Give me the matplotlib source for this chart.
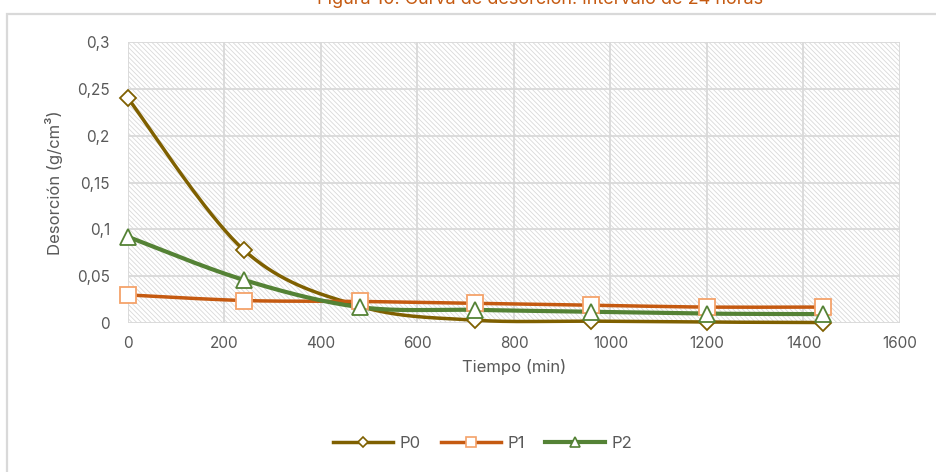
import numpy as np
import matplotlib
matplotlib.use("Agg")
import matplotlib.pyplot as plt
from matplotlib.patches import Rectangle
from matplotlib.lines import Line2D

# Desorption measurements over a 24-hour interval
tiempo = [0, 240, 480, 720, 960, 1200, 1440]
p0 = [0.240, 0.078, 0.018, 0.003, 0.002, 0.001, 0.0005]
p1 = [0.030, 0.024, 0.023, 0.021, 0.019, 0.017, 0.017]
p2 = [0.092, 0.046, 0.017, 0.014, 0.012, 0.010, 0.0095]

x_ticks = [0, 200, 400, 600, 800, 1000, 1200, 1400, 1600]
y_ticks = [0, 0.05, 0.1, 0.15, 0.2, 0.25, 0.3]
y_labels = ["0", "0,05", "0,1", "0,15", "0,2", "0,25", "0,3"]

plt.rcParams["font.family"] = ["Inter", "DejaVu Sans"]
plt.rcParams["hatch.linewidth"] = 0.6


def smooth(x, y, n=40):
    """Catmull-Rom curve through the points, used to draw smoothed lines."""
    x = np.asarray(x, float)
    y = np.asarray(y, float)
    px = np.concatenate([[x[0]], x, [x[-1]]])
    py = np.concatenate([[y[0]], y, [y[-1]]])
    xs, ys = [], []
    t = np.linspace(0, 1, n)
    for i in range(1, len(px) - 2):
        for arr, out in ((px, xs), (py, ys)):
            p_0, p_1, p_2, p_3 = arr[i - 1], arr[i], arr[i + 1], arr[i + 2]
            seg = 0.5 * ((2 * p_1) + (-p_0 + p_2) * t
                         + (2 * p_0 - 5 * p_1 + 4 * p_2 - p_3) * t ** 2
                         + (-p_0 + 3 * p_1 - 3 * p_2 + p_3) * t ** 3)
            out.extend(seg)
    return np.array(xs), np.array(ys)


W, H = 937, 472
fig = plt.figure(figsize=(W / 100, H / 100), dpi=100)
ax = fig.add_axes([128 / W, 1 - 323 / H, (900 - 128) / W, (323 - 42) / H])

# outer chart frame
fig.add_artist(Rectangle((7.5 / W, -0.1), 1.2, 1 - 13.5 / H + 0.1,
                         transform=fig.transFigure, fill=False,
                         edgecolor="#d9d9d9", lw=1.6))

# hatched plot background
ax.add_patch(Rectangle((0, 0), 1, 1, transform=ax.transAxes, facecolor="white",
                       edgecolor="#d9d9d9", hatch="\\" * 7, lw=0, zorder=0))

ax.set_xlim(0, 1600)
ax.set_ylim(0, 0.3)
ax.set_xticks(x_ticks)
ax.set_yticks(y_ticks)
ax.set_yticklabels(y_labels)
ax.grid(True, color="#d9d9d9", lw=1.3, zorder=1)
ax.set_axisbelow(True)
for s in ax.spines.values():
    s.set_visible(False)
ax.tick_params(length=0, labelsize=11, labelcolor="#595959")
ax.tick_params(axis="x", pad=9)
ax.tick_params(axis="y", pad=13)

series = [
    ("P0", p0, "#7f6000", "#7f6000", "D", 8.5, 2.5),
    ("P1", p1, "#c55a11", "#f4a26a", "s", 11, 2.5),
    ("P2", p2, "#548235", "#548235", "^", 12, 3.0),
]
handles = []
for name, vals, lc, mc, mk, ms, lw in series:
    sx, sy = smooth(tiempo, vals)
    ax.plot(sx, sy, color=lc, lw=lw, zorder=3, clip_on=False,
            solid_capstyle="round")
    ax.plot(tiempo, vals, ls="none", marker=mk, ms=ms, mfc="white",
            mec=mc, mew=1.3, zorder=4, clip_on=False)
    handles.append(Line2D([0], [0], color=lc, lw=lw, marker=mk, ms=ms * 0.65,
                          mfc="white", mec=mc, mew=1.2))

ax.set_xlabel("Tiempo (min)", fontsize=12, color="#595959", labelpad=6)
ax.set_ylabel("Desorción (g/cm³)", fontsize=12, color="#595959", labelpad=10)

fig.legend(handles, ["P0", "P1", "P2"], loc="center",
           bbox_to_anchor=(483 / W, 1 - 443 / H), ncol=3, frameon=False,
           fontsize=12, labelcolor="#595959", handlelength=3.6,
           columnspacing=1.2, handletextpad=0.4)

fig.text(540 / W, 1 - 4.5 / H, "Figura 10: Curva de desorción: intervalo de 24 horas",
         ha="center", va="baseline", fontsize=13, color="#c55a11")

fig.savefig("out.png", dpi=100)
